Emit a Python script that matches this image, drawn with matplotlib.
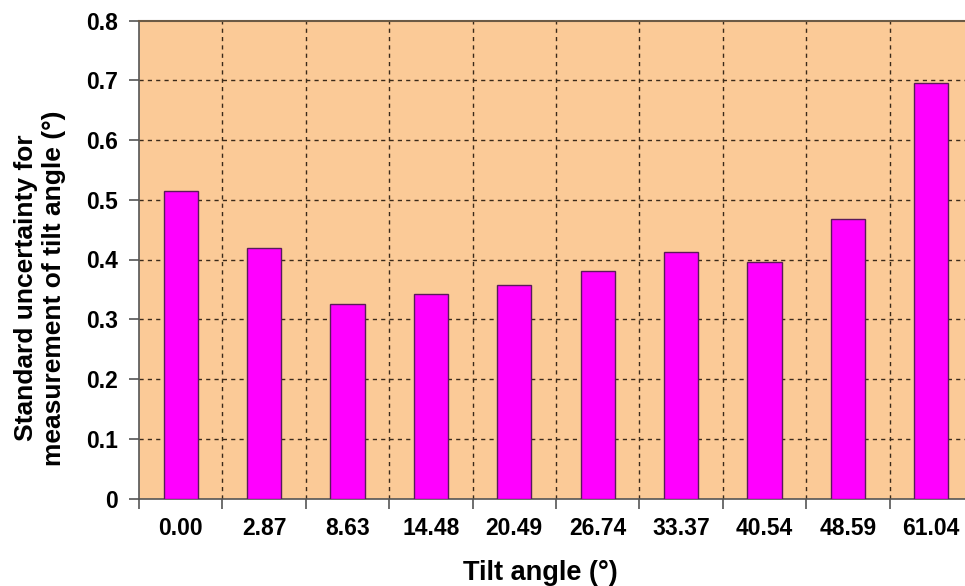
import matplotlib
matplotlib.use("Agg")
import matplotlib.pyplot as plt
import numpy as np

plt.rcParams['font.family'] = ['Liberation Sans', 'DejaVu Sans']

categories = ["0.00", "2.87", "8.63", "14.48", "20.49", "26.74", "33.37", "40.54", "48.59", "61.04"]
values = [0.515, 0.420, 0.326, 0.343, 0.358, 0.380, 0.413, 0.395, 0.467, 0.695]
yticks = [0, 0.1, 0.2, 0.3, 0.4, 0.5, 0.6, 0.7, 0.8]
ytick_labels = ["0", "0.1", "0.2", "0.3", "0.4", "0.5", "0.6", "0.7", "0.8"]

W, H = 965, 586
fig = plt.figure(figsize=(W / 100, H / 100), dpi=100)
fig.patch.set_facecolor("white")

left, right, top, bottom = 139, 973, 20.5, 498.5
ax = fig.add_axes([left / W, (H - bottom) / H, (right - left) / W, (bottom - top) / H])
ax.set_facecolor("#FBCA97")

x = np.arange(len(categories))
ax.bar(x, values, width=0.41, color="#FF00FF", edgecolor="#5a1a5a", linewidth=1.0, zorder=3)

ax.set_xlim(-0.5, len(categories) - 0.5)
ax.set_ylim(0, 0.8)

# grid
for yv in yticks[1:-1]:
    ax.axhline(yv, color="#3a2a1a", linestyle=(0, (3, 3)), linewidth=1.0, zorder=1)
for b in np.arange(0.5, len(categories) - 0.5, 1.0):
    ax.axvline(b, color="#3a2a1a", linestyle=(0, (3, 3)), linewidth=1.0, zorder=1)

ax.set_yticks(yticks)
ax.set_yticklabels(ytick_labels, fontsize=16.5, fontweight="bold")
ax.set_xticks(np.arange(-0.5, len(categories) - 0.5 + 0.01, 1.0))
ax.set_xticklabels([])
ax.set_xticks(x, minor=True)
ax.set_xticklabels(categories, minor=True, fontsize=16.5, fontweight="bold")
ax.tick_params(axis="x", which="minor", length=0, pad=13)
ax.tick_params(axis="x", which="major", length=7, width=1.2, color="#555555", direction="out")
ax.tick_params(axis="y", length=7, width=1.2, color="#555555", direction="out", pad=8)

for s in ["left", "bottom"]:
    ax.spines[s].set_color("#555555")
    ax.spines[s].set_linewidth(1.2)
ax.spines["top"].set_color("#6b5a45")
ax.spines["top"].set_linewidth(1.5)
ax.spines["right"].set_visible(False)

fig.text(540 / W, 1 - 573 / H, "Tilt angle (°)", ha="center", va="center",
         fontsize=19.5, fontweight="bold")
fig.text(40 / W, 1 - 288 / H, "Standard uncertainty for\nmeasurement of tilt angle (°)",
         ha="center", va="center", rotation=90, fontsize=19, fontweight="bold",
         linespacing=1.2)

fig.savefig("out.png", dpi=100)
